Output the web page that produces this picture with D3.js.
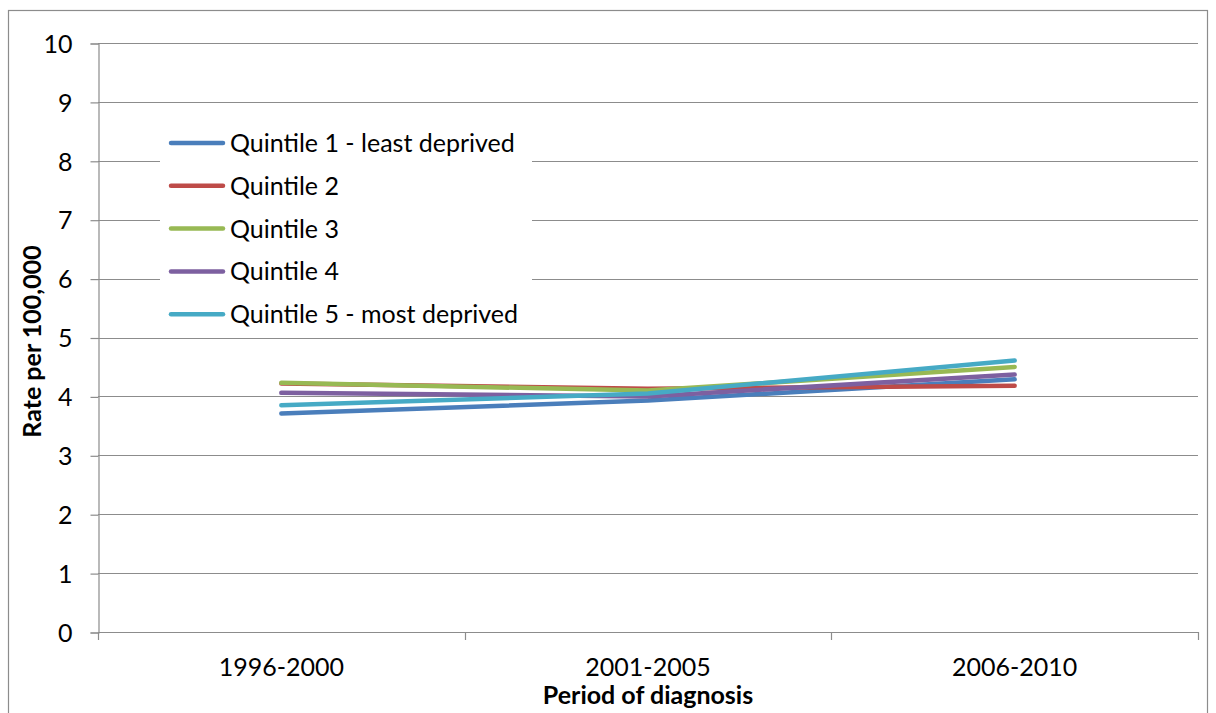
<!DOCTYPE html>
<html>
<head>
<meta charset="utf-8">
<script src="https://cdn.jsdelivr.net/npm/d3@7"></script>
<style>
  body { margin: 0; background: #fff; }
  svg { display: block; font-family: Lato, "Open Sans", sans-serif; }
</style>
</head>
<body>
<svg id="chart" width="1216" height="713"></svg>
<script>
// periods on the x axis
const periods = ['1996-2000', '2001-2005', '2006-2010'];

// one array per quintile (rate per 100,000)
const quintile1 = [3.71, 3.93, 4.29];
const quintile2 = [4.22, 4.13, 4.18];
const quintile3 = [4.23, 4.10, 4.50];
const quintile4 = [4.06, 4.00, 4.37];
const quintile5 = [3.85, 4.05, 4.61];

const seriesNames = [
    'Quintile 1 - least deprived',
    'Quintile 2',
    'Quintile 3',
    'Quintile 4',
    'Quintile 5 - most deprived'
];
const seriesValues = [quintile1, quintile2, quintile3, quintile4, quintile5];
const seriesColors = ['#4A7EBB', '#BE4B48', '#98B954', '#7D60A0', '#46AAC5'];

const yTicks = [0, 1, 2, 3, 4, 5, 6, 7, 8, 9, 10];

// --- layout ---
const svg = d3.select('#chart');
const margin = { top: 43, right: 18, bottom: 81, left: 98 };
const width = 1216, height = 713;
const innerW = width - margin.left - margin.right;
const innerH = height - margin.top - margin.bottom;
const gridColor = '#8c8c8c';
const labelSize = 25;

// outer chart frame
svg.append('rect')
    .attr('x', 8.5).attr('y', 10.5)
    .attr('width', 1199).attr('height', 720)
    .attr('fill', 'none')
    .attr('stroke', gridColor)
    .attr('stroke-width', 1.2);

const g = svg.append('g')
    .attr('transform', `translate(${margin.left},${margin.top})`);

const x = d3.scaleBand().domain(periods).range([0, innerW]);
const y = d3.scaleLinear().domain([0, 10]).range([innerH, 0]);

// horizontal gridlines
g.append('g')
    .selectAll('line')
    .data(yTicks)
    .enter().append('line')
    .attr('x1', 0).attr('x2', innerW)
    .attr('y1', d => Math.round(y(d)) + 0.5)
    .attr('y2', d => Math.round(y(d)) + 0.5)
    .attr('stroke', gridColor)
    .attr('stroke-width', 1.2);

// y axis
const yAxis = g.append('g')
    .attr('transform', 'translate(0.5,0.5)')
    .call(d3.axisLeft(y).tickValues(yTicks).tickSize(8).tickPadding(18).tickFormat(d3.format('d')));
yAxis.selectAll('.domain, .tick line').attr('stroke', gridColor).attr('stroke-width', 1.2);
yAxis.selectAll('text')
    .attr('font-size', labelSize)
    .attr('font-family', 'Lato, sans-serif')
    .attr('dy', '0.35em')
    .attr('fill', '#000');

// x axis: tick marks at band boundaries
const boundaries = periods.map(p => x(p)).concat([innerW]);
g.append('g')
    .selectAll('line')
    .data(boundaries)
    .enter().append('line')
    .attr('x1', d => Math.round(d) + 0.5).attr('x2', d => Math.round(d) + 0.5)
    .attr('y1', innerH).attr('y2', innerH + 8)
    .attr('stroke', gridColor)
    .attr('stroke-width', 1.2);

g.append('g')
    .selectAll('text')
    .data(periods)
    .enter().append('text')
    .attr('x', d => x(d) + x.bandwidth() / 2)
    .attr('y', innerH + 44)
    .attr('text-anchor', 'middle')
    .attr('font-size', labelSize)
    .attr('fill', '#000')
    .text(d => d);

// axis titles
svg.append('text')
    .attr('x', margin.left + innerW / 2)
    .attr('y', 704)
    .attr('text-anchor', 'middle')
    .attr('font-size', 25)
    .attr('font-weight', 'bold')
    .text('Period of diagnosis');

svg.append('text')
    .attr('transform', `translate(41,${margin.top + innerH / 2 + 4}) rotate(-90)`)
    .attr('text-anchor', 'middle')
    .attr('font-size', 25)
    .attr('font-weight', 'bold')
    .text('Rate per 100,000');

// series lines
const line = d3.line()
    .x((d, i) => x(periods[i]) + x.bandwidth() / 2)
    .y(d => y(d));

g.append('g')
    .selectAll('path')
    .data(seriesValues)
    .enter().append('path')
    .attr('d', d => line(d))
    .attr('fill', 'none')
    .attr('stroke', (d, i) => seriesColors[i])
    .attr('stroke-width', 4.5)
    .attr('stroke-linecap', 'round')
    .attr('stroke-linejoin', 'round');

// legend (white box covering gridlines)
const legend = svg.append('g').attr('transform', 'translate(160,122)');
legend.append('rect')
    .attr('width', 372).attr('height', 212)
    .attr('fill', '#fff');

const rows = legend.selectAll('g.row')
    .data(seriesNames)
    .enter().append('g')
    .attr('class', 'row')
    .attr('transform', (d, i) => `translate(0,${21 + i * 42.8})`);

rows.append('line')
    .attr('x1', 11).attr('x2', 63)
    .attr('y1', 0).attr('y2', 0)
    .attr('stroke', (d, i) => seriesColors[i])
    .attr('stroke-width', 4.5)
    .attr('stroke-linecap', 'round');

rows.append('text')
    .attr('x', 70)
    .attr('y', 9)
    .attr('font-size', labelSize)
    .attr('fill', '#000')
    .text(d => d);
</script>
</body>
</html>
